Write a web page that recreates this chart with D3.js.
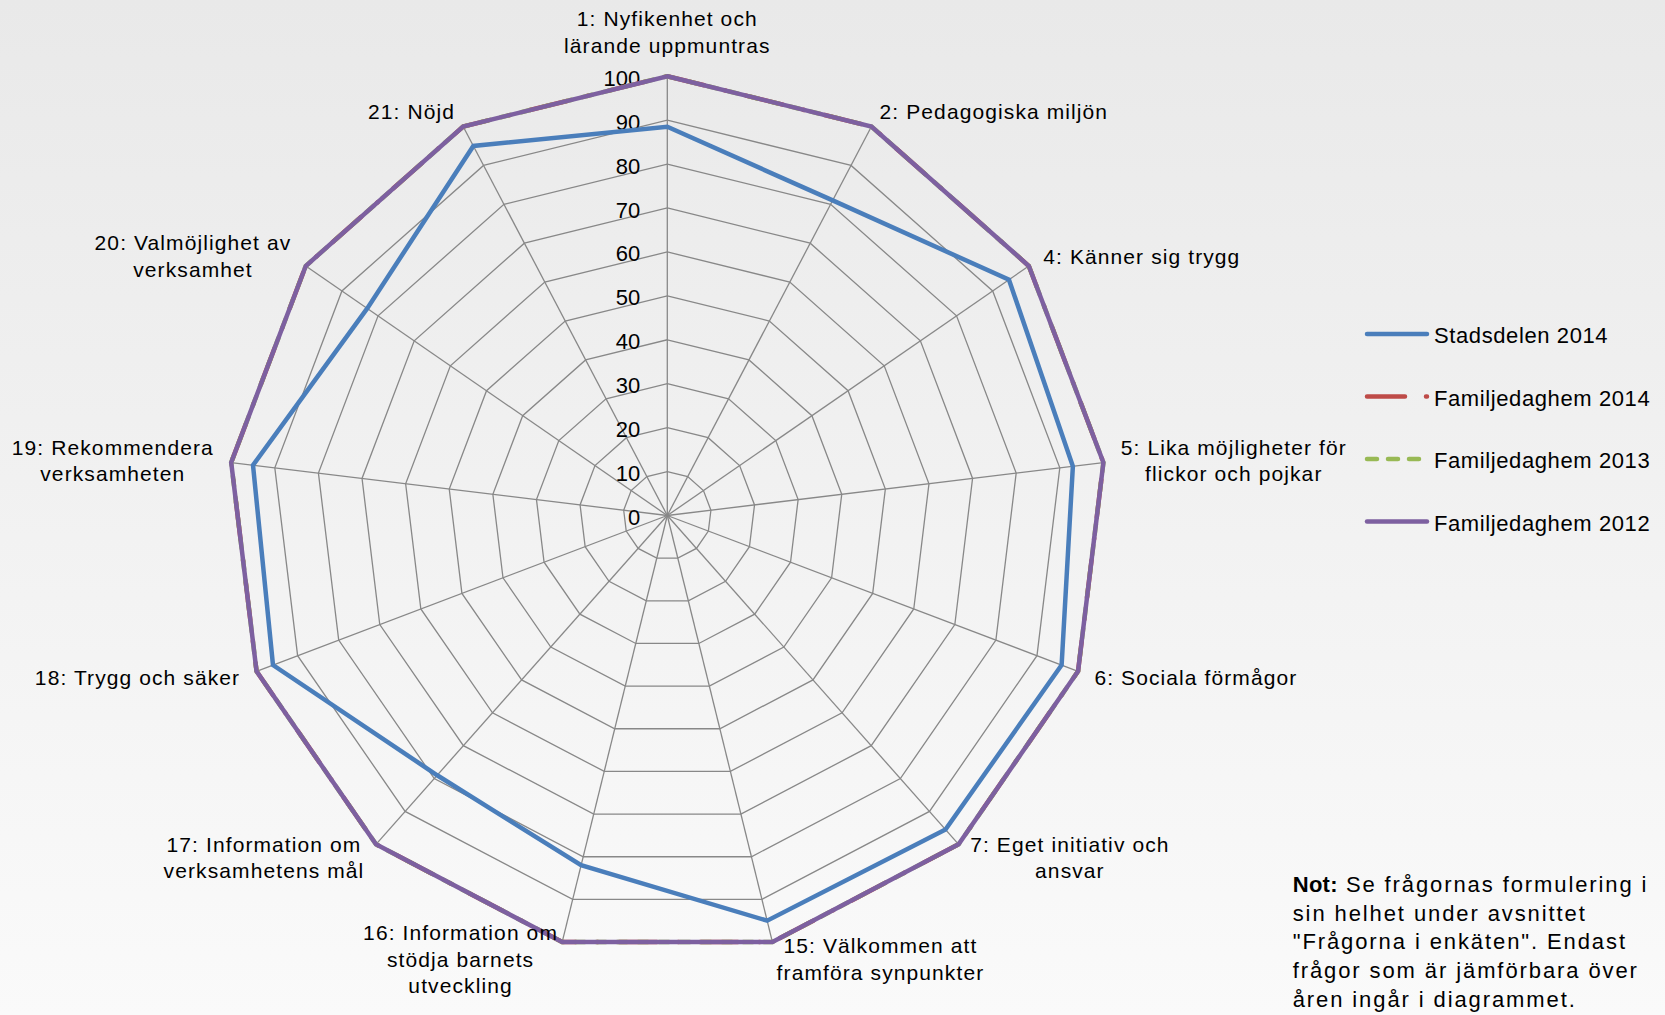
<!DOCTYPE html>
<html><head><meta charset="utf-8">
<script src="https://cdn.jsdelivr.net/npm/d3@7"></script>
<style>html,body{margin:0;padding:0;background:#f3f3f3;} svg{display:block;}</style>
</head><body>
<svg id="c" width="1665" height="1015"></svg>
<script>
// ---------- data ----------
const categories = [
  "1: Nyfikenhet och\nlärande uppmuntras",
  "2: Pedagogiska miljön",
  "4: Känner sig trygg",
  "5: Lika möjligheter för\nflickor och pojkar",
  "6: Sociala förmågor",
  "7: Eget initiativ och\nansvar",
  "15: Välkommen att\nframföra synpunkter",
  "16: Information om\nstödja barnets\nutveckling",
  "17: Information om\nverksamhetens mål",
  "18: Trygg och säker",
  "19: Rekommendera\nverksamheten",
  "20: Valmöjlighet av\nverksamhet",
  "21: Nöjd"
];
const stadsdelen2014     = [88.5, 81, 94.5, 93, 96, 95.5, 95, 82, 79, 96, 95, 83, 95];
const familjedaghem2014  = [100, 100, 100, 100, 100, 100, 100, 100, 100, 100, 100, 100, 100];
const familjedaghem2013  = [100, 100, 100, 100, 100, 100, 100, 100, 100, 100, 100, 100, 100];
const familjedaghem2012  = [100, 100, 100, 100, 100, 100, 100, 100, 100, 100, 100, 100, 100];
const seriesNames = ["Stadsdelen 2014", "Familjedaghem 2014", "Familjedaghem 2013", "Familjedaghem 2012"];
const tickValues = [0, 10, 20, 30, 40, 50, 60, 70, 80, 90, 100];
const noteLines = [
  "Se frågornas formulering i",
  "sin helhet under avsnittet",
  "\"Frågorna i enkäten\". Endast",
  "frågor som är jämförbara över",
  "åren ingår i diagrammet."
];

// ---------- layout / style ----------
const W = 1665, H = 1015;
const cx = 667.3, cy = 515.5, R = 439.3;
const colors = ["#4a7ebb", "#be4b48", "#98b954", "#7d60a0"];
const dashes = [null, "38,21,1,21", "10,11", null];
const FONT = "'Liberation Sans', Arial, sans-serif";

const svg = d3.select("#c");
const defs = svg.append("defs");
const grad = defs.append("linearGradient").attr("id","bg").attr("x1",0).attr("y1",0).attr("x2",0).attr("y2",1);
grad.append("stop").attr("offset","0%").attr("stop-color","#e9e9e9");
grad.append("stop").attr("offset","100%").attr("stop-color","#fafafa");
svg.append("rect").attr("width",W).attr("height",H).attr("fill","url(#bg)");

const n = categories.length;
const r = d3.scaleLinear().domain([0,100]).range([0,R]);
const ang = i => i * 2 * Math.PI / n;
const g = svg.append("g").attr("transform",`translate(${cx},${cy})`);

const radial = d3.lineRadial().angle((d,i)=>ang(i)).radius(d=>r(d)).curve(d3.curveLinearClosed);

// grid rings
g.append("g").selectAll("path").data(tickValues.filter(t=>t>0)).join("path")
  .attr("d", t => radial(categories.map(()=>t)))
  .attr("fill","none").attr("stroke","#888").attr("stroke-width",1.3);
// spokes
g.append("g").selectAll("line").data(categories).join("line")
  .attr("x1",0).attr("y1",0)
  .attr("x2",(d,i)=>r(100)*Math.sin(ang(i)))
  .attr("y2",(d,i)=>-r(100)*Math.cos(ang(i)))
  .attr("stroke","#888").attr("stroke-width",1.3);

// tick labels
g.append("g").selectAll("text").data(tickValues).join("text")
  .attr("x",-27).attr("y",t=>-r(t)+2)
  .attr("text-anchor","end").attr("dominant-baseline","central")
  .attr("font-family",FONT).attr("font-size",22).attr("fill","#000")
  .text(t=>t);

// series
const allSeries = [stadsdelen2014, familjedaghem2014, familjedaghem2013, familjedaghem2012];
allSeries.forEach((s,k)=>{
  const p = g.append("path").attr("d", radial(s)).attr("fill","none")
    .attr("stroke",colors[k]).attr("stroke-width",4.5).attr("stroke-linejoin","miter");
  if (dashes[k]) p.attr("stroke-dasharray",dashes[k]).attr("stroke-linecap","round");
});

// category labels
const gap = 17.5, lh = 26.5;
categories.forEach((c,i)=>{
  const a = ang(i), sx = Math.sin(a), cy0 = -Math.cos(a);
  const ax = (R+gap)*sx, ay = (R+gap)*cy0;
  const lines = c.split("\n");
  const t = g.append("text").attr("font-family",FONT).attr("font-size",21)
    .attr("letter-spacing","1.1px").attr("fill","#000").attr("text-anchor","middle");
  lines.forEach((l,j)=>t.append("tspan").attr("x",0).attr("y",j*lh).attr("dominant-baseline","central").text(l));
  const bw = t.node().getBBox().width;
  const bh = lines.length*lh;
  let x, y;
  if (Math.abs(sx) < 0.01) { x = ax; y = (cy0 < 0) ? ay - bh + lh/2 : ay + lh/2; }
  else if (sx > 0) { x = ax + bw/2; y = ay - bh/2 + lh/2; }
  else { x = ax - bw/2; y = ay - bh/2 + lh/2; }
  t.selectAll("tspan").attr("x",x).attr("y",(d,j)=>y+j*lh);
});

// legend
const lg = svg.append("g").attr("transform","translate(1365,334)");
seriesNames.forEach((name,k)=>{
  const row = lg.append("g").attr("transform",`translate(0,${k*62.5})`);
  const ln = row.append("line").attr("x1",2).attr("x2",62).attr("y1",0).attr("y2",0)
    .attr("stroke",colors[k]).attr("stroke-width",4.5).attr("stroke-linecap","round");
  if (dashes[k]) ln.attr("stroke-dasharray",dashes[k]);
  row.append("text").attr("x",69).attr("y",1.5).attr("dominant-baseline","central")
    .attr("font-family",FONT).attr("font-size",22).attr("letter-spacing","0.6px").text(name);
});

// note
const note = svg.append("text").attr("font-family",FONT).attr("font-size",22).attr("fill","#000")
  .attr("letter-spacing","1.9px");
noteLines.forEach((l,j)=>{
  const ts = note.append("tspan").attr("x",1292.7).attr("y",892 + j*28.7);
  if (j===0) {
    ts.append("tspan").attr("font-weight","bold").attr("letter-spacing","0.3px").text("Not:");
    ts.append("tspan").text(" " + l);
  } else {
    ts.text(l);
  }
});
</script>
</body></html>
